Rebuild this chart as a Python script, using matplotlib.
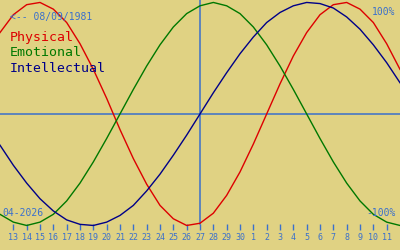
import numpy as np
import matplotlib
matplotlib.use("Agg")
import matplotlib.pyplot as plt

# day labels along the bottom (13 April .. 11 May 2026)
days = [13, 14, 15, 16, 17, 18, 19, 20, 21, 22, 23, 24, 25, 26, 27, 28, 29, 30,
        1, 2, 3, 4, 5, 6, 7, 8, 9, 10, 11]
# cycle values in percent, one per day from 12 April to 12 May
physical = [73, 89, 98, 100, 94, 82, 63, 40, 14, -14, -40, -63, -82, -94, -100, -98,
            -89, -73, -52, -27, 0, 27, 52, 73, 89, 98, 100, 94, 82, 63, 40]
emotional = [-90, -97, -100, -97, -90, -78, -62, -43, -22, 0, 22, 43, 62, 78, 90, 97,
             100, 97, 90, 78, 62, 43, 22, 0, -22, -43, -62, -78, -90, -97, -100]
intellectual = [-28, -46, -62, -76, -87, -95, -99, -100, -97, -91, -82, -69, -54, -37, -19, 0,
                19, 37, 54, 69, 82, 91, 97, 100, 99, 95, 87, 76, 62, 46, 28]
birth = "08/09/1981"
month = "04-2026"
today = 14  # index of the marked day (27)

bg = "#e0d283"
blue = "#3a70cc"
mono = "DejaVu Sans Mono"

x = np.arange(-1, len(physical) - 1)

fig = plt.figure(figsize=(4, 2.5), dpi=100)
fig.patch.set_facecolor(bg)
ax = fig.add_axes([0, 0, 1, 1])
ax.set_facecolor(bg)

ax.axhline(0, color=blue, lw=1.1)
ax.axvline(today, ymin=0.104, ymax=1, color=blue, lw=1.1)

ax.plot(x, physical, color="#dd0000", lw=1.0)
ax.plot(x, emotional, color="#007800", lw=1.0)
ax.plot(x, intellectual, color="#000088", lw=1.0)

ax.set_xlim(-1, 29)
ax.set_ylim(-122, 102.2)

for s in ax.spines.values():
    s.set_visible(False)
ax.spines["bottom"].set_position(("axes", 0.104))
ax.set_xticks(range(len(days)))
ax.set_xticklabels([str(d) for d in days], fontsize=6, family=mono, color=blue)
ax.tick_params(axis="x", direction="out", length=4.3, width=1, color=blue, pad=2)
ax.set_yticks([])

ax.text(0.025, 0.932, "<-- " + birth, transform=ax.transAxes, fontsize=7, family=mono,
        color=blue, va="center", ha="left")
ax.text(0.007, 0.148, month, transform=ax.transAxes, fontsize=7, family=mono,
        color=blue, va="center", ha="left")
ax.text(0.988, 0.952, "100%", transform=ax.transAxes, fontsize=7, family=mono,
        color=blue, va="center", ha="right")
ax.text(0.988, 0.148, "-100%", transform=ax.transAxes, fontsize=7, family=mono,
        color=blue, va="center", ha="right")

ax.text(0.025, 0.848, "Physical", transform=ax.transAxes, fontsize=9.5, family=mono,
        color="#dd0000", va="center", ha="left")
ax.text(0.025, 0.788, "Emotional", transform=ax.transAxes, fontsize=9.5, family=mono,
        color="#007800", va="center", ha="left")
ax.text(0.025, 0.728, "Intellectual", transform=ax.transAxes, fontsize=9.5, family=mono,
        color="#000088", va="center", ha="left")

fig.savefig("out.png", dpi=100, facecolor=bg)
